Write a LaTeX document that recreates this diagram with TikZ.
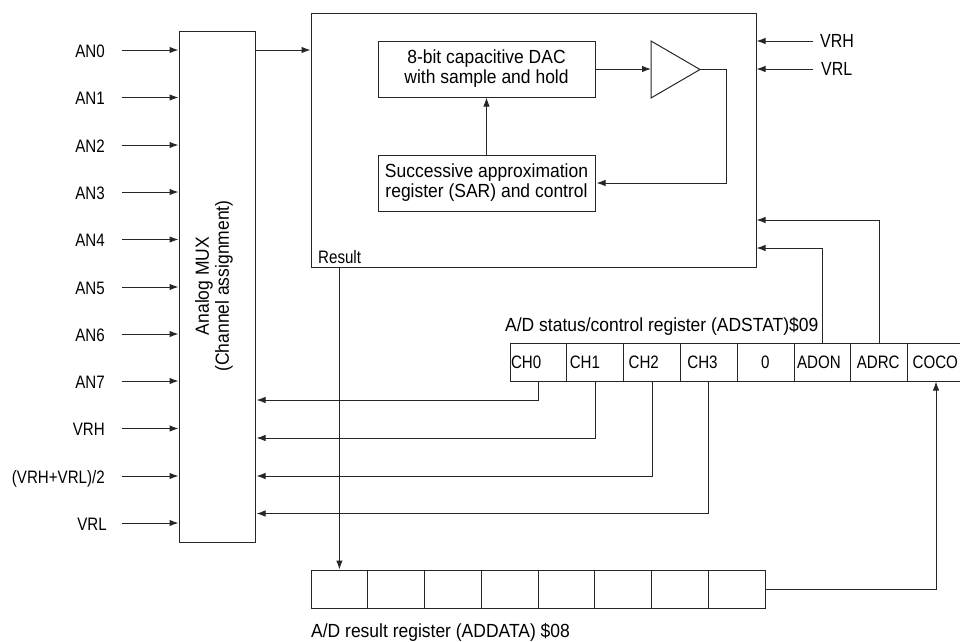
\documentclass[tikz,border=0pt]{standalone}
\usepackage{fontspec}
\setmainfont[FakeStretch=0.92]{Liberation Sans}
\newfontfamily\narrowf[FakeStretch=0.84]{Liberation Sans}
\usetikzlibrary{arrows.meta,calc}
\newcommand{\celltxt}[2]{\makebox[56.8pt][l]{\hspace{#1pt}#2}}
\tikzset{
  box/.style={draw=black!85,line width=1pt,fill=none,inner sep=0pt},
  lbl/.style={inner ysep=0pt,inner xsep=0pt,anchor=east,font=\narrowf\fontsize{18}{20}\selectfont},
  txt/.style={inner sep=0pt,font=\fontsize{19}{20}\selectfont,align=center},
  cell/.style={draw=black!85,line width=1pt,minimum width=56.8pt,minimum height=38pt,inner sep=0pt,font=\narrowf\fontsize{18}{20}\selectfont},
  conn/.style={draw=black!85,line width=1pt},
  arr/.style={conn,-{Latex[length=9pt,width=6.5pt]}}
}
\begin{document}
\begin{tikzpicture}[x=1pt,y=-1pt]
\useasboundingbox (0,0) rectangle (960,641);
% MUX
\node[box,minimum width=76pt,minimum height=511pt] (mux) at (217,286.5) {};
\node[txt,rotate=90] (muxt) at (214,286) {Analog MUX\\(Channel assignment)};
% Converter box
\node[box,minimum width=445pt,minimum height=254pt] (adc) at (533.5,140) {};
\node[box,minimum width=217pt,minimum height=56pt,txt,draw=black!85,line width=1pt] (dac) at (486.5,69) {8-bit capacitive DAC\\with sample and hold};
\node[box,minimum width=217pt,minimum height=56pt,txt,draw=black!85,line width=1pt] (sar) at (486.5,183) {Successive approximation\\register (SAR) and control};
\coordinate (ta) at (651,41);
\coordinate (tb) at (651,98);
\coordinate (tc) at (700,69.5);
\draw[box] (ta) -- (tc) -- (tb) -- cycle;
\coordinate (tin) at (651,69);
\coordinate (fb) at (726,69.5);
\draw[arr] (dac.east) -- (tin);
\draw[arr] (sar.north -| dac.south) -- (dac.south);
\draw[arr] (tc) -- (fb) -- (fb |- sar.east) -- ([xshift=1pt]sar.east);
% Inputs
\foreach \n/\y/\t/\g in {an0/50/AN0/0,an1/97.5/AN1/0,an2/145/AN2/0,an3/192/AN3/0,an4/239.5/AN4/0,an5/287/AN5/0,an6/334/AN6/0,an7/381/AN7/0,vrh/428.5/VRH/0,vrm/476/{(VRH+VRL)/2}/0,vrl/523/VRL/2}{
  \node[lbl,text height=13pt,text depth=0pt] (\n) at (105+\g,\y+0.5) {\t};
  \coordinate (\n s) at (122,\y);
  \draw[arr] (\n s) -- (\n s -| mux.west);
}
\coordinate (muxo) at (mux.east |- an0s);
\draw[arr] (muxo) -- (muxo -| adc.west);
% Reference inputs
\node[lbl,anchor=west,text height=13pt,font=\narrowf\fontsize{19}{20}\selectfont] (rh) at (820,41) {VRH};
\node[lbl,anchor=west,text height=13pt,font=\narrowf\fontsize{19}{20}\selectfont] (rl) at (821,69) {VRL};
\coordinate (rhs) at (813,41);
\coordinate (rls) at (813,69);
\draw[arr] (rhs) -- (rhs -| adc.east);
\draw[arr] (rls) -- (rls -| adc.east);
% Status register
\node[cell] (c0) at (538.4,362) {\celltxt{1}{CH0}};
\node[cell] (c1) at (595.2,362) {\celltxt{3}{CH1}};
\node[cell] (c2) at (652,362) {\celltxt{5}{CH2}};
\node[cell] (c3) at (708.8,362) {\celltxt{7}{CH3}};
\node[cell] (c4) at (765.6,362) {\celltxt{24}{0}};
\node[cell] (c5) at (822.4,362) {\celltxt{3}{ADON}};
\node[cell] (c6) at (879.2,362) {\celltxt{6}{ADRC}};
\node[cell] (c7) at (936,362) {\celltxt{5}{COCO}};
\node[txt,anchor=west] (st) at (505,326) {A/D status/control register (ADSTAT)\$09};
\coordinate (y5) at (0,248);
\coordinate (y6) at (0,220);
\draw[arr] (c5.north) -- (c5.north |- y5) -- (y5 -| adc.east);
\draw[arr] (c6.north) -- (c6.north |- y6) -- (y6 -| adc.east);
\coordinate (m0) at (0,400);
\coordinate (m1) at (0,438);
\coordinate (m2) at (0,476);
\coordinate (m3) at (0,513.5);
\draw[arr] (c0.south) -- (c0.south |- m0) -- ([xshift=1pt]m0 -| mux.east);
\draw[arr] (c1.south) -- (c1.south |- m1) -- ([xshift=1pt]m1 -| mux.east);
\draw[arr] (c2.south) -- (c2.south |- m2) -- ([xshift=1pt]m2 -| mux.east);
\draw[arr] (c3.south) -- (c3.south |- m3) -- ([xshift=1pt]m3 -| mux.east);
% Result register
\foreach \i in {0,...,7}{
  \node[cell,minimum width=56.75pt,minimum height=38pt] (r\i) at ({339.4+56.75*\i},589) {};
}
\node[txt,anchor=west] (rt) at (311,632) {A/D result register (ADDATA) \$08};
\node[inner sep=0pt,anchor=west,font=\narrowf\fontsize{18}{18}\selectfont] (res) at (318,257) {Result};
\coordinate (rs) at (r0.north |- adc.south);
\draw[arr] (rs) -- (r0.north);
\coordinate (bend) at (c7.south |- r7.east);
\draw[arr] (r7.east) -- (bend) -- (c7.south);
\end{tikzpicture}
\end{document}
